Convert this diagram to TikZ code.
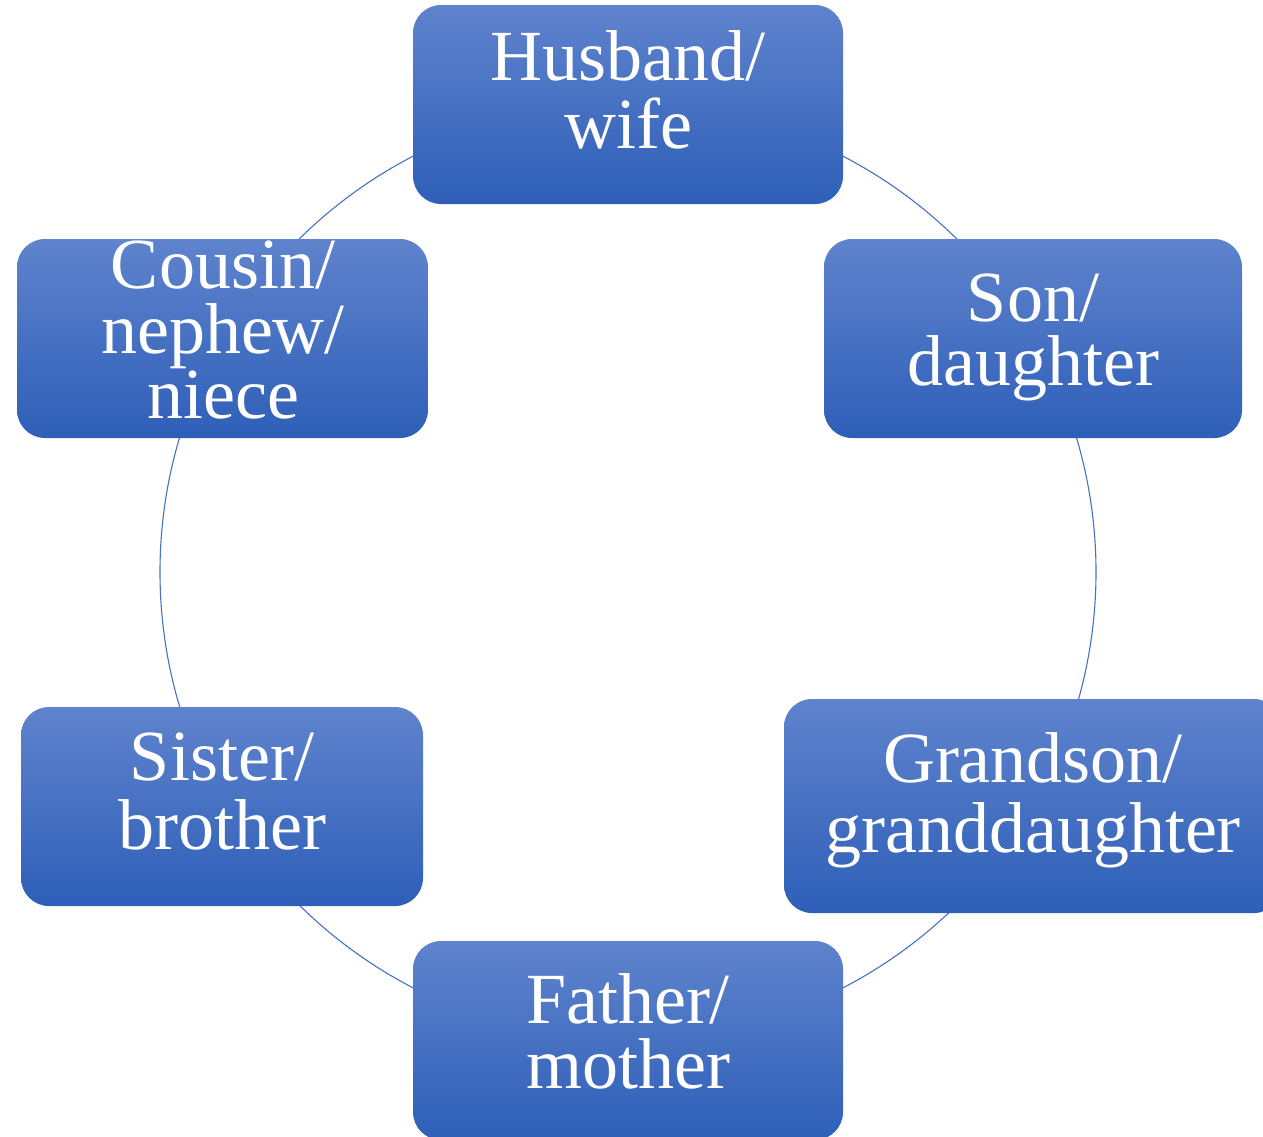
\documentclass[tikz,border=0pt]{standalone}
\usepackage{fontspec}
\setmainfont{Liberation Serif}
\definecolor{ringblue}{RGB}{68,114,196}
\definecolor{cardtop}{RGB}{95,131,205}
\definecolor{cardbottom}{RGB}{46,95,184}
\begin{document}
\begin{tikzpicture}[x=1pt,y=-1pt,
  famcard/.style={rectangle, rounded corners=28pt, top color=cardtop,
    bottom color=cardbottom, draw=none, inner sep=0pt},
  famtext/.style={text=white, align=center, inner sep=0pt,
    font=\fontsize{72}{#1}\selectfont, anchor=base},
  famtext/.default=67]
\useasboundingbox (0,0) rectangle (1263,1136);
\clip (0,0) rectangle (1263,1136);

% the ring that links the relatives
\draw[ringblue, line width=1.1pt] (628,572) circle (468pt);

% cards
\node[famcard, minimum width=430pt, minimum height=199pt] (spouse)  at (628,104.5) {};
\node[famcard, minimum width=418pt, minimum height=199pt] (child)   at (1033,338.5) {};
\node[famcard, minimum width=498pt, minimum height=214pt] (grand)   at (1033,806) {};
\node[famcard, minimum width=430pt, minimum height=199pt] (parent)  at (628,1040.5) {};
\node[famcard, minimum width=402pt, minimum height=199pt] (sibling) at (222,806.5) {};
\node[famcard, minimum width=411pt, minimum height=199pt] (cousin)  at (222.5,338.5) {};

% labels (anchored on the baseline of their last line)
\node[famtext=68] (spouseT)  at (628,148)  {Husband/\\wife};
\node[famtext=64] (childT)   at (1033,385) {Son/\\daughter};
\node[famtext=70] (grandT)   at (1033,852) {Grandson/\\granddaughter};
\node[famtext=65] (parentT)  at (628,1088) {Father/\\mother};
\node[famtext=69] (siblingT) at (222,849)  {Sister/\\brother};
\node[famtext=65] (cousinT)  at (223,418)  {Cousin/\\nephew/\\niece};
\end{tikzpicture}
\end{document}
